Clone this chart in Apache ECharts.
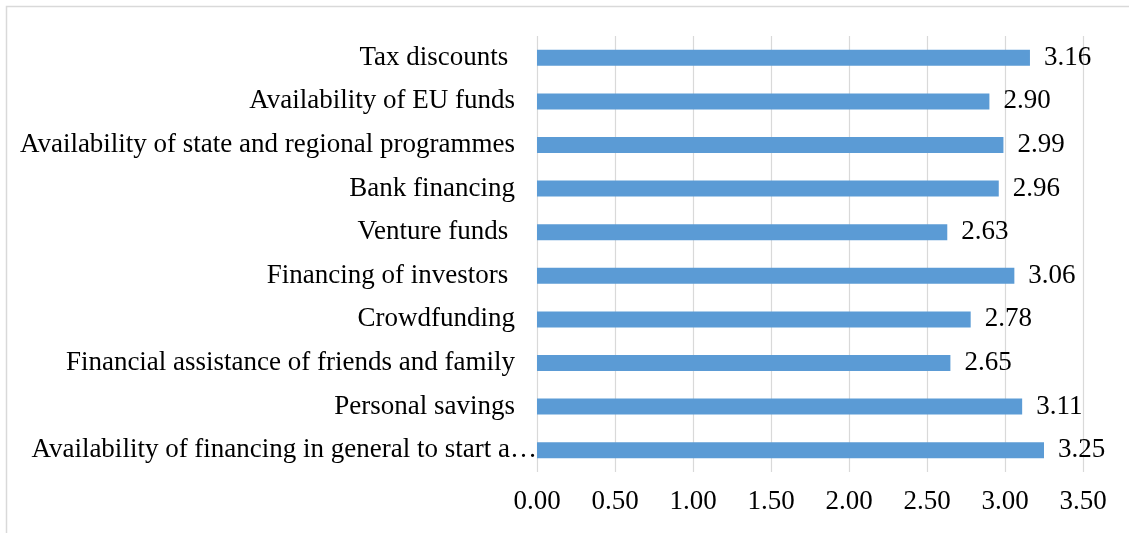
<!DOCTYPE html>
<html>
<head>
<meta charset="utf-8">
<script src="https://cdn.jsdelivr.net/npm/echarts@6/dist/echarts.min.js"></script>
<style>
  html, body { margin: 0; padding: 0; background: #fff; }
  #chart { width: 1129px; height: 533px; }
</style>
</head>
<body>
<div id="chart"></div>
<script>
// Sources of financing, listed bottom to top on the category axis
const categories = [
  'Availability of financing in general to start a business',
  'Personal savings',
  'Financial assistance of friends and family',
  'Crowdfunding',
  'Financing of investors ',
  'Venture funds ',
  'Bank financing',
  'Availability of state and regional programmes',
  'Availability of EU funds',
  'Tax discounts '
];
const scores = [3.25, 3.11, 2.65, 2.78, 3.06, 2.63, 2.96, 2.99, 2.90, 3.16];
const axisMin = 0;
const axisMax = 3.5;
const axisStep = 0.5;

const font = '"Liberation Serif", "Times New Roman", serif';
const fontSize = 27;
const labelGap = 22;

// Long category names are cut so that they end with "start a…"
const measureCtx = document.createElement('canvas').getContext('2d');
measureCtx.font = fontSize + 'px ' + font;
const labelWidth = Math.ceil(measureCtx.measureText('Availability of financing in general to start a\u2026').width) + 1;

// The cut label runs right up to the axis; the others keep a gap
const categoryData = categories.map(name => {
  const fits = measureCtx.measureText(name).width <= labelWidth;
  return fits ? name : { value: name, textStyle: { padding: [0, 0, 0, 0] } };
});

const chart = echarts.init(document.getElementById('chart'), null, { renderer: 'canvas' });
chart.setOption({
  backgroundColor: '#ffffff',
  animation: false,
  graphic: [{
    type: 'rect',
    shape: { x: 6.5, y: 6.5, width: 1200, height: 600 },
    style: { fill: 'none', stroke: '#d9d9d9', lineWidth: 1.5 },
    silent: true
  }],
  grid: { left: 537, right: 46, top: 36, bottom: 61, containLabel: false },
  xAxis: {
    type: 'value',
    min: axisMin,
    max: axisMax,
    interval: axisStep,
    axisLine: { show: false },
    axisTick: { show: false },
    splitLine: { show: true, lineStyle: { color: '#d9d9d9', width: 1.2 } },
    axisLabel: {
      margin: 16,
      color: '#000',
      fontFamily: font,
      fontSize: fontSize,
      formatter: v => v.toFixed(2)
    }
  },
  yAxis: {
    type: 'category',
    data: categoryData,
    axisLine: { show: false },
    axisTick: { show: false },
    axisLabel: {
      margin: 0,
      padding: [0, labelGap, 0, 0],
      color: '#000',
      fontFamily: font,
      fontSize: fontSize,
      width: labelWidth,
      overflow: 'truncate',
      ellipsis: '\u2026'
    }
  },
  series: [{
    type: 'bar',
    data: scores,
    barWidth: 16,
    itemStyle: { color: '#5b9bd5' },
    label: {
      show: true,
      position: 'right',
      distance: 14,
      color: '#000',
      fontFamily: font,
      fontSize: fontSize,
      formatter: p => p.value.toFixed(2)
    }
  }]
});
</script>
</body>
</html>
